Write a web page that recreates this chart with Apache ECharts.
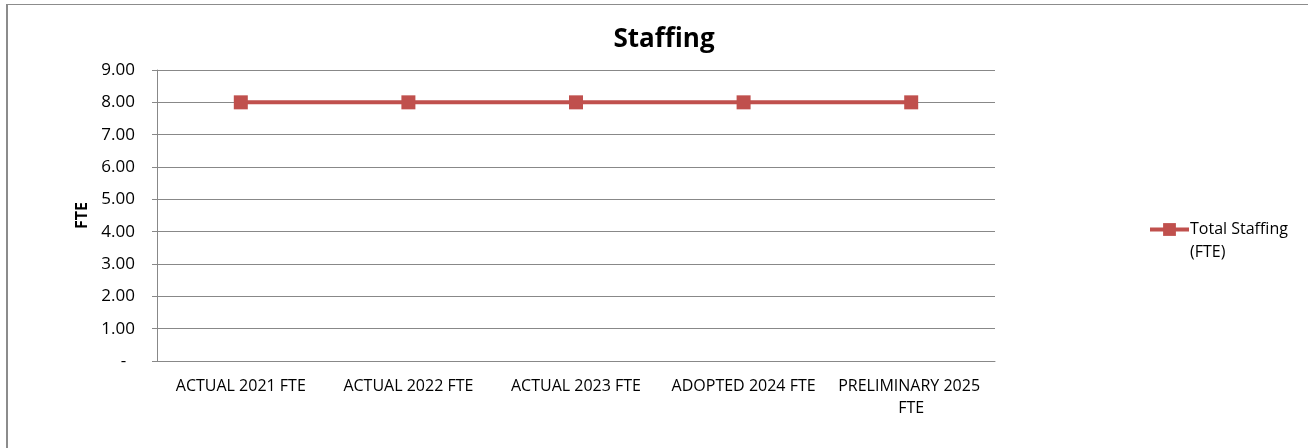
<!DOCTYPE html>
<html>
<head>
<meta charset="utf-8">
<script src="https://cdn.jsdelivr.net/npm/echarts@6/dist/echarts.min.js"></script>
<style>
  html, body { margin: 0; padding: 0; background: #fff; }
  #frame { position: absolute; left: 6px; top: 4px; width: 1400px; height: 500px;
           border-top: 1px solid #8c8c8c; border-left: 2px solid #8c8c8c; }
  #chart { position: absolute; left: 0; top: 0; width: 1308px; height: 448px; }
</style>
</head>
<body>
<div id="frame"></div>
<div id="chart"></div>
<script>
const categories = ['ACTUAL 2021 FTE', 'ACTUAL 2022 FTE', 'ACTUAL 2023 FTE', 'ADOPTED 2024 FTE', 'PRELIMINARY 2025 FTE']
const staffing = [8, 8, 8, 8, 8]
const seriesName = 'Total Staffing (FTE)'

const font = '"Open Sans", sans-serif'
const red = '#C0504D'

const chart = echarts.init(document.getElementById('chart'))
chart.setOption({
  animation: false,
  title: {
    text: 'Staffing',
    left: 659,
    textAlign: 'center',
    top: 22,
    textStyle: { fontFamily: font, fontSize: 26, fontWeight: 'bold', color: '#000' }
  },
  legend: {
    left: 1143,
    top: 190,
    orient: 'vertical',
    itemWidth: 39,
    itemHeight: 16,
    // empty first line so the icon sits level with "Total Staffing"
    formatter: function (name) {
      return '\u00a0\n' + name.replace(' (', '\n(')
    },
    lineStyle: { width: 4 },
    textStyle: { fontFamily: font, fontSize: 16, color: '#000', lineHeight: 23, padding: [0, 0, 0, -4] },
    data: [seriesName]
  },
  grid: {
    left: 157,
    right: 313,
    top: 70,
    bottom: 87
  },
  xAxis: {
    type: 'category',
    data: categories,
    axisLine: { lineStyle: { color: '#888', width: 1 } },
    axisTick: { show: false },
    axisLabel: {
      fontFamily: font,
      fontSize: 16,
      color: '#000',
      margin: 14,
      width: 162,
      overflow: 'break',
      lineHeight: 22,
      interval: 0
    }
  },
  yAxis: {
    type: 'value',
    min: 0,
    max: 9,
    interval: 1,
    name: 'FTE',
    nameLocation: 'middle',
    nameGap: 66,
    nameTextStyle: { fontFamily: font, fontSize: 16, fontWeight: 'bold', color: '#000' },
    axisLine: { show: true, lineStyle: { color: '#888', width: 1 } },
    axisTick: { show: true, length: 5, lineStyle: { color: '#888' } },
    splitLine: { lineStyle: { color: '#888', width: 1 } },
    axisLabel: {
      fontFamily: font,
      fontSize: 17,
      color: '#000',
      margin: 22,
      formatter: function (v) {
        return v === 0 ? '-  ' : v.toFixed(2)
      }
    }
  },
  series: [
    {
      name: seriesName,
      type: 'line',
      data: staffing,
      symbol: 'rect',
      symbolSize: 14,
      itemStyle: { color: red },
      lineStyle: { color: red, width: 4 }
    }
  ]
})
</script>
</body>
</html>
